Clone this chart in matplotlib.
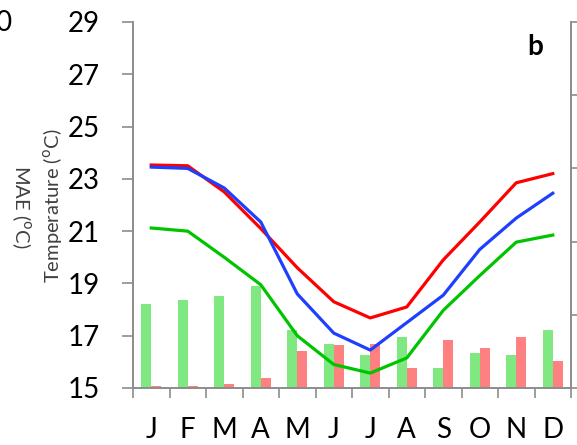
import numpy as np
import matplotlib.pyplot as plt

plt.rcParams['font.family'] = ['Lato', 'DejaVu Sans']

months = ["J", "F", "M", "A", "M", "J", "J", "A", "S", "O", "N", "D"]

# temperature lines (left axis, degC)
temp_red = [23.53, 23.5, 22.5, 21.1, 19.6, 18.3, 17.68, 18.1, 19.9, 21.35, 22.85, 23.2]
temp_blue = [23.45, 23.4, 22.65, 21.35, 18.6, 17.1, 16.45, 17.5, 18.55, 20.3, 21.5, 22.45]
temp_green = [21.12, 21.0, 20.0, 18.95, 17.0, 15.9, 15.57, 16.15, 17.97, 19.3, 20.58, 20.85]

# MAE bars (right axis)
mae_green = [1.15, 1.20, 1.26, 1.40, 0.79, 0.60, 0.45, 0.69, 0.28, 0.48, 0.45, 0.79]
mae_red = [0.03, 0.03, 0.055, 0.14, 0.50, 0.59, 0.60, 0.27, 0.66, 0.55, 0.69, 0.37]

temp_ticks = [15, 17, 19, 21, 23, 25, 27, 29]
mae_ticks = [0, 1, 2, 3, 4, 5]

spine_col = "#8c8c8c"

fig = plt.figure(figsize=(5.77, 4.45), dpi=100)
ax = fig.add_axes([133 / 577, 1 - 388 / 445, 438 / 577, 366 / 445])
ax2 = ax.twinx()

x = np.arange(len(months))
w = 0.28
ax2.bar(x - w / 2, mae_green, width=w, color="#80e880", zorder=1)
ax2.bar(x + w / 2, mae_red, width=w, color="#ff8080", zorder=1)
ax2.set_ylim(0, 5)
ax2.set_yticks(mae_ticks)
ax2.set_yticklabels([])
ax2.tick_params(axis="y", length=5, color=spine_col, width=1.2)

# lines drawn above the bars
ax.set_zorder(ax2.get_zorder() + 1)
ax.patch.set_visible(False)
ax.plot(x, temp_red, color="#ff0000", lw=2.3)
ax.plot(x, temp_blue, color="#1f3fff", lw=2.3)
ax.plot(x, temp_green, color="#00c400", lw=2.3)

ax.set_xlim(-0.5, 11.5)
ax.set_ylim(15, 29)
ax.set_yticks(temp_ticks)
ax.tick_params(axis="y", labelsize=20, length=8, pad=16, color=spine_col, width=1.2)

ax.set_xticks(np.arange(-0.5, 12, 1))
ax.set_xticklabels([])
ax.tick_params(axis="x", which="major", length=7, color=spine_col, width=1.2)
ax.set_xticks(x, minor=True)
ax.set_xticklabels(months, minor=True)
ax.tick_params(axis="x", which="minor", length=0, labelsize=20, pad=21)

for a in (ax, ax2):
    a.spines["top"].set_visible(False)
    for s in ("left", "right", "bottom"):
        a.spines[s].set_color(spine_col)
        a.spines[s].set_linewidth(1.2)

fig.text(53 / 577, 1 - 206 / 445, "Temperature ($^{\\rm o}$C)", rotation=90,
         ha="center", va="center", fontsize=14.5, color="#404040")
fig.text(21 / 577, 1 - 207 / 445, "MAE ($^{\\rm o}$C)", rotation=-90,
         ha="center", va="center", fontsize=14.5, color="#404040")
fig.text(11 / 577, 1 - 23 / 445, "0", ha="right", va="center", fontsize=20)
fig.text(535 / 577, 1 - 47 / 445, "b", ha="center", va="center",
         fontsize=20, fontweight="bold")

fig.savefig("out.png", dpi=100)
